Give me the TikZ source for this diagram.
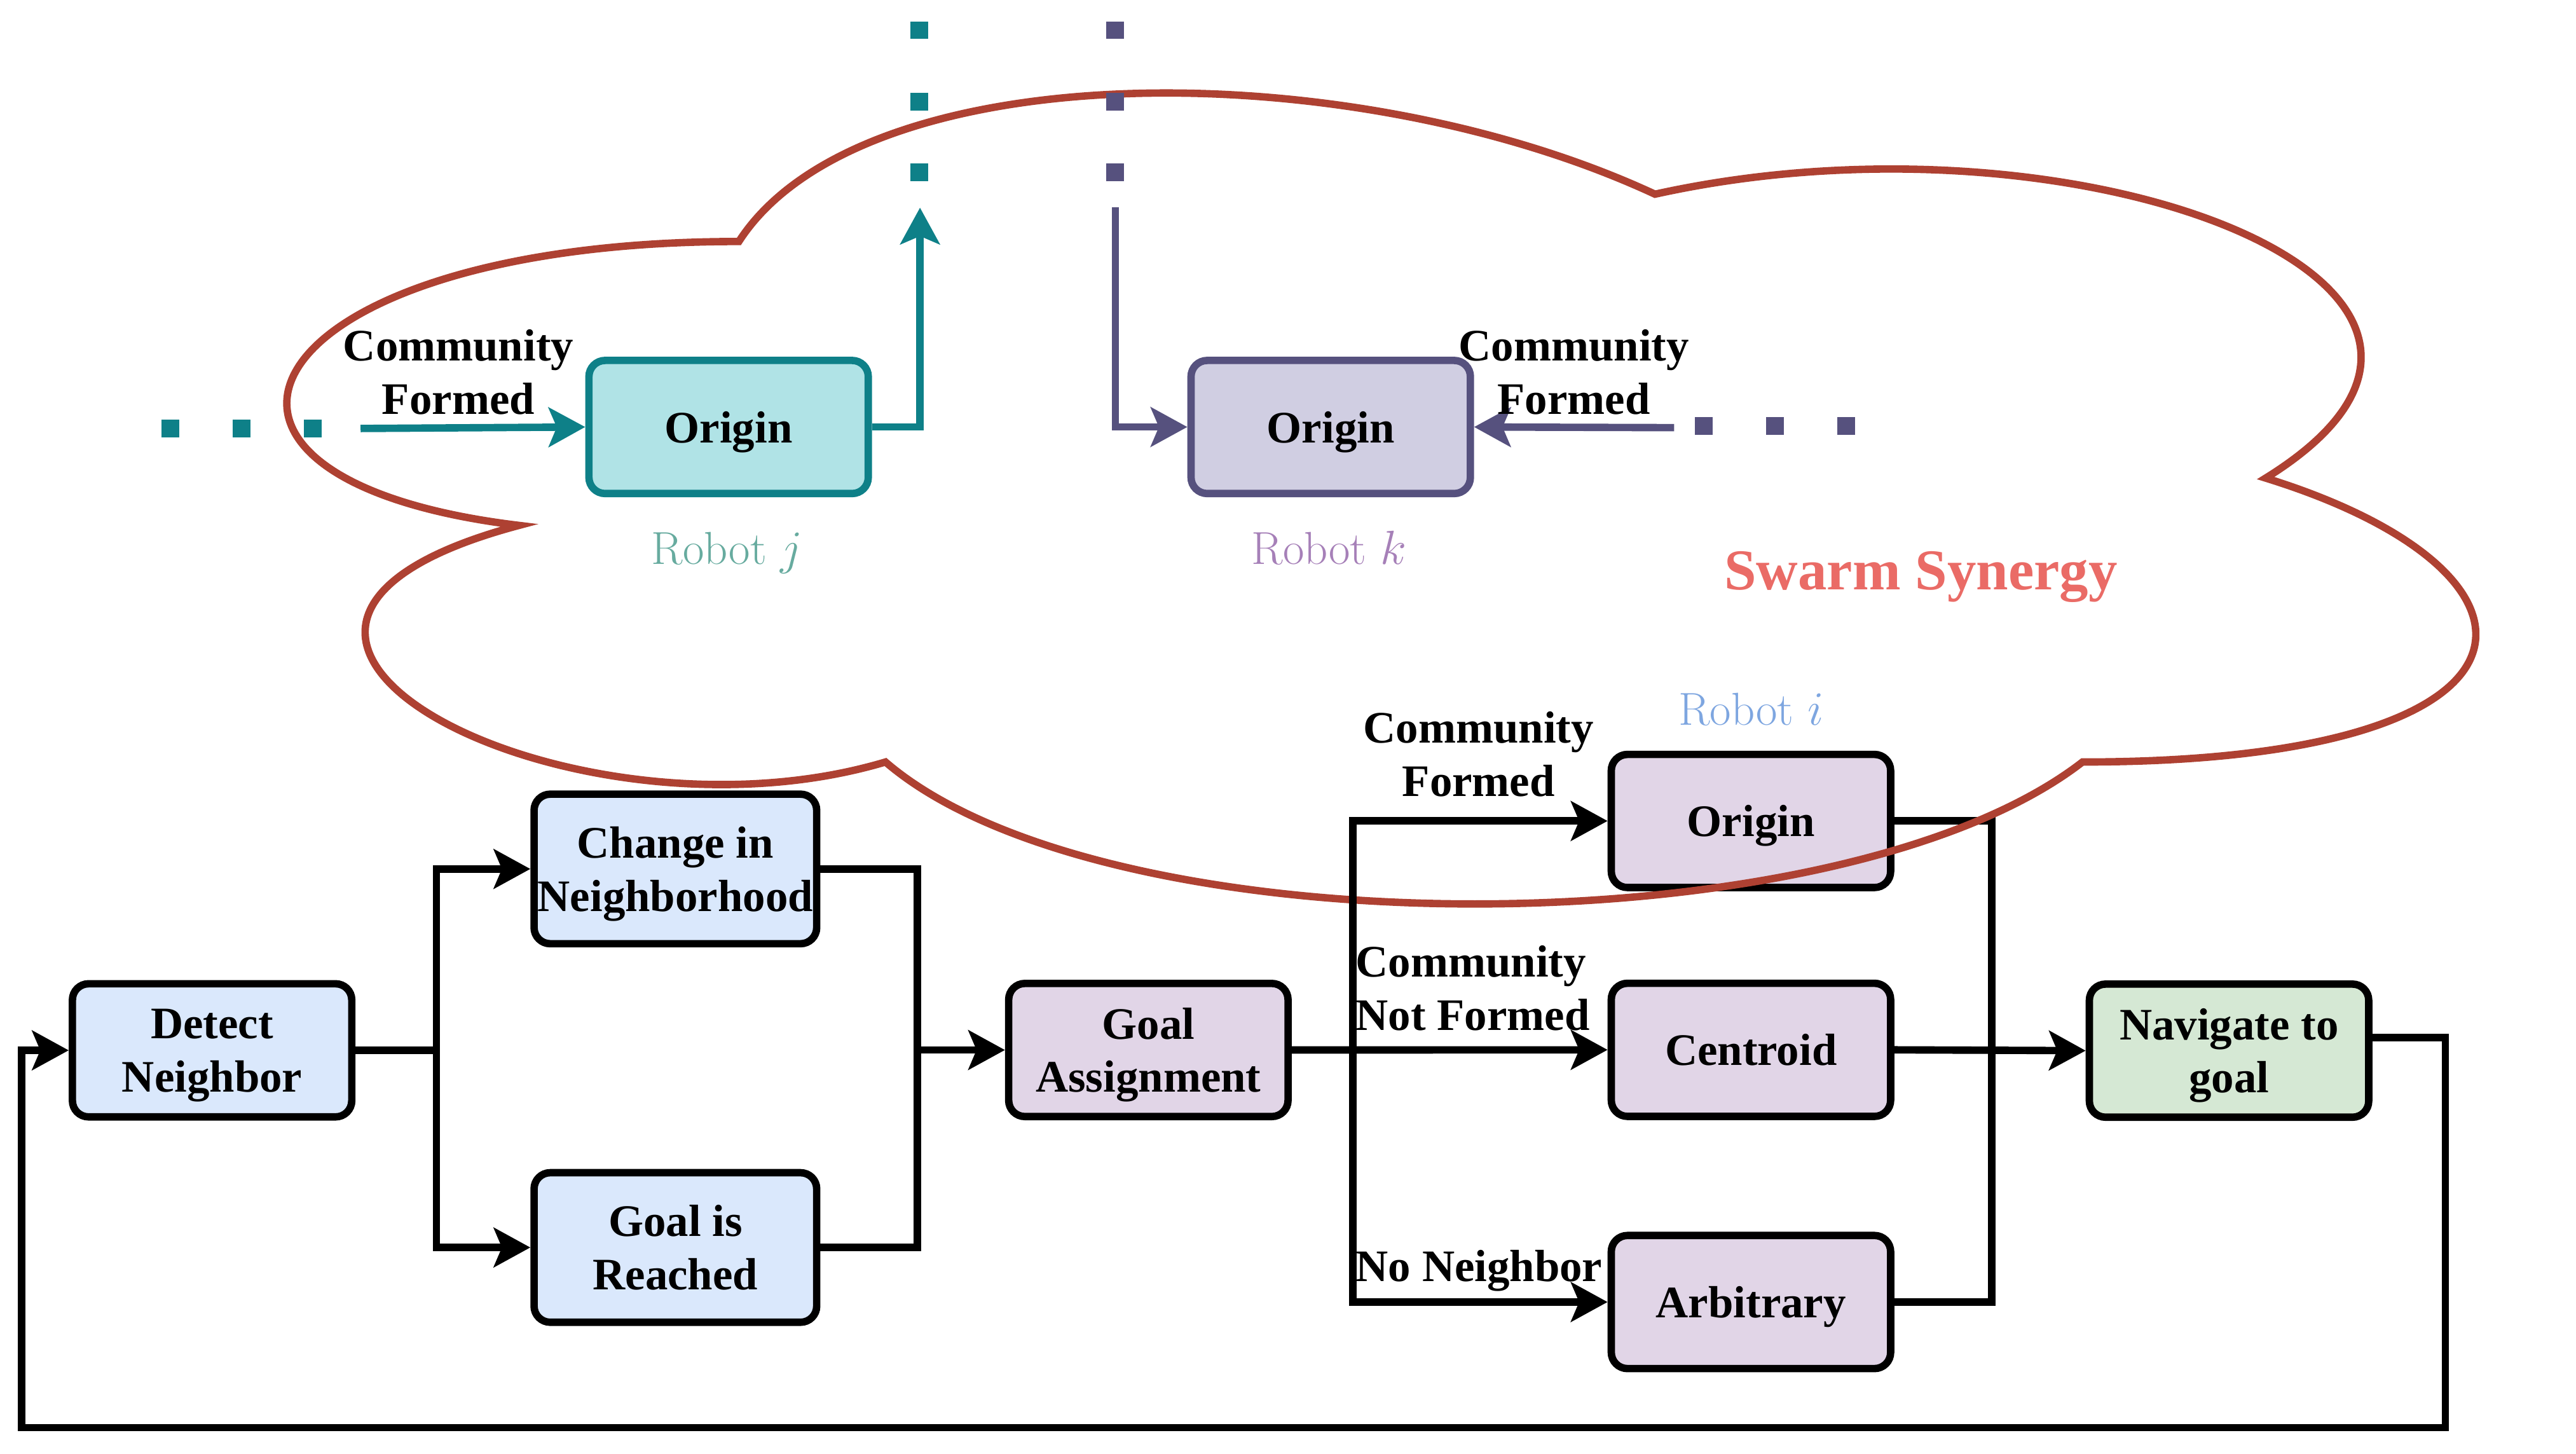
\documentclass[tikz,border=0pt]{standalone}
\usepackage{fontspec}
\usetikzlibrary{arrows.meta}
\newfontfamily\timesfam{Liberation Serif}
\newcommand\lblfont{\fontsize{19.5}{23}\selectfont\timesfam\bfseries}
\newcommand\robfont{\fontsize{20}{24}\selectfont}
\definecolor{bfill}{HTML}{DAE8FC}
\definecolor{pfill}{HTML}{E1D5E7}
\definecolor{gfill}{HTML}{D5E8D4}
\definecolor{tfill}{HTML}{B0E3E6}
\definecolor{tline}{HTML}{0E8088}
\definecolor{kfill}{HTML}{D0CEE2}
\definecolor{kline}{HTML}{56517E}
\definecolor{cloudc}{HTML}{AE4132}
\definecolor{swarmc}{HTML}{EA6B66}
\definecolor{robj}{HTML}{67AB9F}
\definecolor{robk}{HTML}{A680B8}
\definecolor{robi}{HTML}{7EA6E0}
\tikzset{
  box/.style={draw, line width=3.2pt, rounded corners=7pt, minimum width=4.25cm,
    minimum height=2.025cm, align=center, inner sep=0pt, text depth=0pt, font=\lblfont},
  tallbox/.style={box, minimum width=4.3cm, minimum height=2.275cm},
  wire/.style={line width=3.2pt},
  conn/.style={wire, -{Stealth[length=15.8pt,width=17pt,inset=3.5pt]}},
  lbl/.style={inner sep=0pt, font=\lblfont, align=center},
  roblbl/.style={inner sep=0pt, font=\robfont, anchor=base},
  dotsq/.style={minimum size=0.27cm, inner sep=0pt, draw=none},
}
\begin{document}
\begin{tikzpicture}[x=0.025cm, y=-0.025cm]
\useasboundingbox (0,0) rectangle (1568,885);

% ---- bottom flow nodes ----
\node[box, fill=bfill] (det) at (129.1,639.3) {Detect\\Neighbor};
\node[tallbox, fill=bfill] (chg) at (411.1,528.9) {Change in\\Neighborhood};
\node[tallbox, fill=bfill] (reach) at (411.1,759.3) {Goal is\\Reached};
\node[box, fill=pfill] (ga) at (699,639.1) {Goal\\Assignment};
\node[box, fill=pfill] (ori) at (1065.8,499.7) {Origin};
\node[box, fill=pfill] (cen) at (1065.8,639) {Centroid};
\node[box, fill=pfill] (arb) at (1065.8,792.5) {Arbitrary};
\node[box, fill=gfill] (nav) at (1356.8,639.5) {Navigate to\\goal};

% ---- top robot nodes ----
\node[box, fill=tfill, draw=tline] (oj) at (443.5,259.9) {Origin};
\node[box, fill=kfill, draw=kline] (ok) at (810,259.9) {Origin};

% ---- coordinates ----
\coordinate (j1) at (265.7,639.3);
\coordinate (j2) at (558.4,639.1);
\coordinate (j3) at (823.4,639.1);
\coordinate (j4) at (1212.4,639.3);
\coordinate (c1) at (1488.4,631.5);
\coordinate (c2) at (1488.4,869);
\coordinate (c3) at (13.2,869);
\coordinate (c4) at (13.2,639.3);
\coordinate (tj) at (219.5,260.8);
\coordinate (tup) at (560,126.4);
\coordinate (kdown) at (678.9,126);
\coordinate (kr) at (1019,260.3);

% connectors under the cloud
\draw[wire] (ori.east) -| (j4);
\draw[wire] (arb.east) -| (j4);

% ---- cloud ----
\draw[cloudc, line width=3.2pt, line join=miter]
  (449.75,147)
  .. controls (152.35,147) and (78,291) .. (315.9,319.8)
  .. controls (78,383.2) and (345.7,521.4) .. (539.0,463.8)
  .. controls (672.8,579) and (1118.9,579) .. (1267.6,463.8)
  .. controls (1565,463.8) and (1565,348.6) .. (1379.1,291)
  .. controls (1565,175.8) and (1267.6,60.6) .. (1007.4,118.2)
  .. controls (821.5,31.8) and (524.1,31.8) .. (449.75,147) -- cycle;

% ---- bottom connectors ----
\draw[wire] (det.east) -- (j1);
\draw[conn] (j1) |- (chg.west);
\draw[conn] (j1) |- (reach.west);
\draw[wire] (chg.east) -| (j2);
\draw[wire] (reach.east) -| (j2);
\draw[conn] (j2) -- (ga.west);
\draw[conn] (ga.east) -- (cen.west);
\draw[conn] (j3) |- (ori.west);
\draw[conn] (j3) |- (arb.west);
\draw[conn] (cen.east) -- (nav.west);
\draw[conn] (nav.east |- c1) -- (c1) -- (c2) -- (c3) -- (c4) -- (det.west);

% ---- top connectors ----
\draw[conn, tline] (tj) -- (oj.west);
\draw[conn, tline] (oj.east) -| (tup);
\draw[conn, kline] (kdown) |- (ok.west);
\draw[conn, kline] (kr) -- (ok.east);

% ---- dots ----
\foreach \p/\n in {{(103.7,260.8)}/a1,{(147,260.8)}/a2,{(190.4,260.8)}/a3,
                   {(559.5,105)}/b1,{(559.5,61.9)}/b2,{(559.5,18.4)}/b3}
  \node[dotsq, fill=tline] (dt\n) at \p {};
\foreach \p/\n in {{(678.9,105)}/c1,{(678.9,61.9)}/c2,{(678.9,18.4)}/c3,
                   {(1037,259.3)}/d1,{(1080.4,259.3)}/d2,{(1123.6,259.3)}/d3}
  \node[dotsq, fill=kline] (dk\n) at \p {};

% ---- labels (base = baseline of last line) ----
\node[lbl, anchor=base] (lj) at (279,252.1) {Community\\Formed};
\node[lbl, anchor=base] (lk) at (958,252.1) {Community\\Formed};
\node[lbl, anchor=base] (li1) at (900,484.6) {Community\\Formed};
\node[lbl, anchor=base west, align=left] (li2) at (825,627.1) {Community\\Not Formed};
\node[lbl, anchor=base west] (li3) at (825,779.8) {No Neighbor};

\node[roblbl, text=robj] (rj) at (442.6,343.6) {Robot $j$};
\node[roblbl, text=robk] (rk) at (809,343.6) {Robot $k$};
\node[roblbl, text=robi] (ri) at (1065.8,441.4) {Robot $i$};

\node[inner sep=0pt, anchor=base, text=swarmc,
  font=\fontsize{25}{30}\selectfont\timesfam\bfseries] (sw) at (1169.2,359.1) {Swarm Synergy};
\end{tikzpicture}
\end{document}
